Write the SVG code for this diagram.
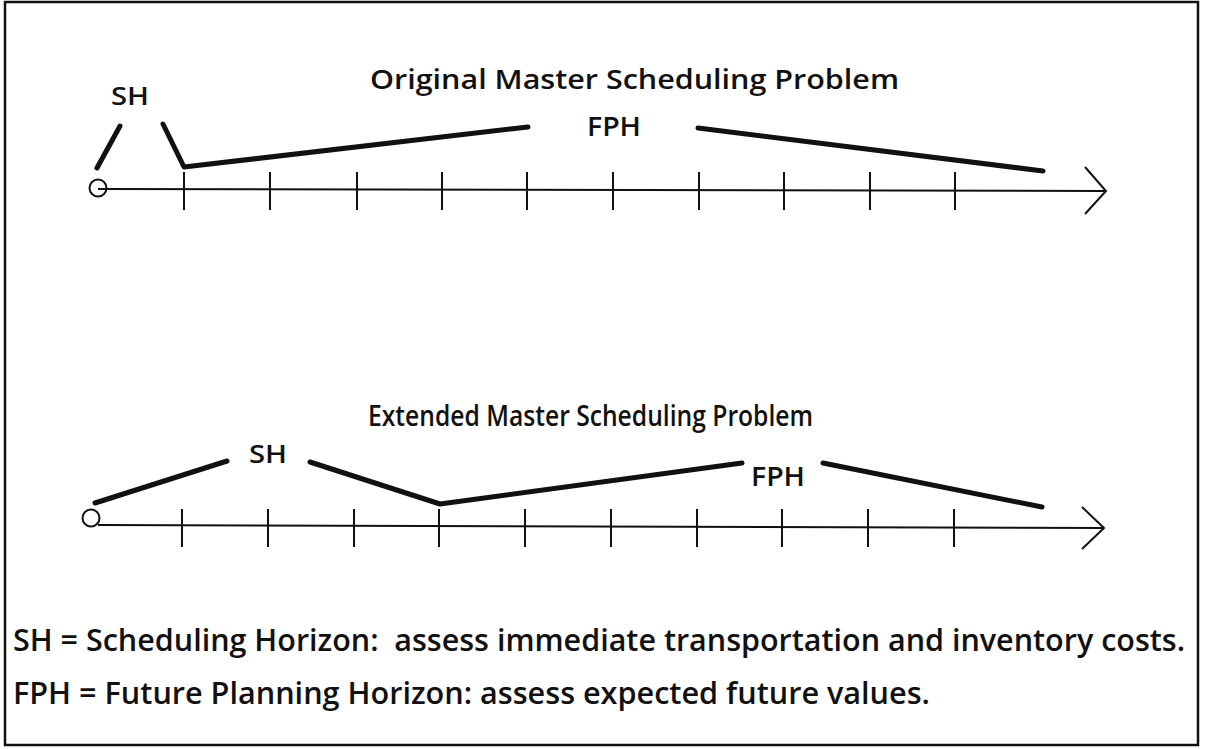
<svg xmlns="http://www.w3.org/2000/svg" width="1205" height="749" viewBox="0 0 1205 749">
<style>
.t{font-family:"Open Sans","Liberation Sans",sans-serif;fill:#111;font-weight:600;white-space:pre;}
.ax{stroke:#111;stroke-width:2;fill:none;}
.br{stroke:#111;stroke-width:5;fill:none;stroke-linecap:round;stroke-linejoin:round;}
</style>
<rect x="5" y="2" width="1193" height="743" fill="#fff" stroke="#111" stroke-width="2.5"/>
<g id="top-diagram">
<text class="t" x="370" y="89" font-size="27" textLength="529" lengthAdjust="spacingAndGlyphs">Original Master Scheduling Problem</text>
<text class="t" x="111" y="105" font-size="26" textLength="38" lengthAdjust="spacingAndGlyphs">SH</text>
<text class="t" x="587" y="136" font-size="27" textLength="54" lengthAdjust="spacingAndGlyphs">FPH</text>
<circle class="ax" cx="98" cy="188" r="8.5"/>
<path class="ax" d="M98 189 L1105 191 M1085 167 L1106 191 L1085 214"/>
<path class="ax" d="M184 172V210M270 172V210M357 172V210M442 172V210M527 172V210M613 172V210M699 172V210M784 172V210M870 172V210M955 172V210"/>
</g>
<g id="top-brackets">
<path class="br" d="M97 168 L120 126"/>
<path class="br" d="M163 124 L184 167 L528 127"/>
<path class="br" d="M698 128 L1043 171"/>
</g>
<g id="bottom-diagram">
<text class="t" x="368" y="426" font-size="28" textLength="445" lengthAdjust="spacingAndGlyphs">Extended Master Scheduling Problem</text>
<text class="t" x="249" y="463" font-size="26" textLength="38" lengthAdjust="spacingAndGlyphs">SH</text>
<text class="t" x="751" y="486" font-size="27" textLength="54" lengthAdjust="spacingAndGlyphs">FPH</text>
<circle class="ax" cx="91" cy="518" r="8.5"/>
<path class="ax" d="M98 525 L1104 528 M1082 507 L1104 528 L1082 549"/>
<path class="ax" d="M182 509V547M268 509V547M354 509V547M439 509V547M525 509V547M611 509V547M697 509V547M782 509V547M868 509V547M954 509V547"/>
</g>
<g id="bottom-brackets">
<path class="br" d="M95 503 L227 461"/>
<path class="br" d="M310 462 L440 504 L742 463"/>
<path class="br" d="M823 463 L1042 507"/>
</g>
<g id="legend">
<text class="t" x="13" y="651" font-size="30" textLength="1172" lengthAdjust="spacingAndGlyphs">SH = Scheduling Horizon:  assess immediate transportation and inventory costs.</text>
<text class="t" x="13" y="704" font-size="30" textLength="917" lengthAdjust="spacingAndGlyphs">FPH = Future Planning Horizon: assess expected future values.</text>
</g>
</svg>
